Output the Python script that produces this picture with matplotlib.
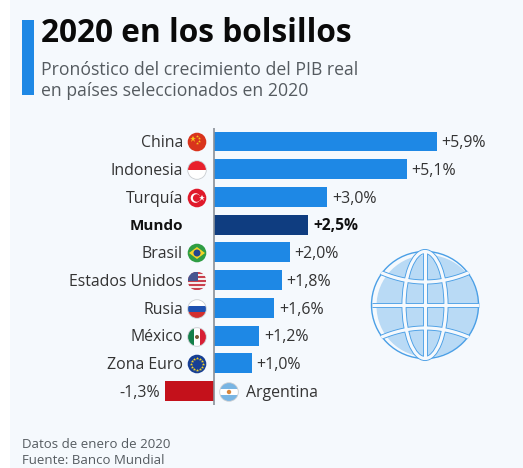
import numpy as np
import matplotlib
matplotlib.use("Agg")
import matplotlib.pyplot as plt
from matplotlib.patches import Circle, Rectangle, Ellipse, Polygon

categories = ["China", "Indonesia", "Turquía", "Mundo", "Brasil", "Estados Unidos",
              "Rusia", "México", "Zona Euro", "Argentina"]
values = [5.9, 5.1, 3.0, 2.5, 2.0, 1.8, 1.6, 1.2, 1.0, -1.3]
value_labels = ["+5,9%", "+5,1%", "+3,0%", "+2,5%", "+2,0%", "+1,8%", "+1,6%", "+1,2%", "+1,0%", "-1,3%"]

W, H = 523, 468
BLUE = "#1e88e5"
DARK = "#0f3d80"
RED = "#c4111b"
PAGE = "#f5f9fd"
GREY = "#555b60"
plt.rcParams["font.family"] = ["Open Sans", "DejaVu Sans"]

fig = plt.figure(figsize=(W / 100, H / 100), dpi=100, facecolor="white")

# page overlay in pixel coordinates
bg = fig.add_axes([0, 0, 1, 1])
bg.set_xlim(0, W); bg.set_ylim(H, 0); bg.axis("off")
bg.add_patch(Rectangle((10, 0), W - 10, H, color=PAGE, lw=0))
bg.add_patch(Rectangle((22, 20), 12, 75, color=BLUE, lw=0))
bg.text(41, 34, "2020 en los bolsillos", fontsize=22.8, fontweight="bold", color="#0a0a0a", va="center")
bg.text(41, 70, "Pronóstico del crecimiento del PIB real", fontsize=12.7, color=GREY, va="center")
bg.text(41, 91, "en países seleccionados en 2020", fontsize=12.7, color=GREY, va="center")
bg.text(22, 445, "Datos de enero de 2020", fontsize=9.5, color=GREY, va="center")
bg.text(22, 461, "Fuente: Banco Mundial", fontsize=9.5, color=GREY, va="center")

# bars
x0, ppu = 214, 37.8
ax = fig.add_axes([0, (H - 405) / H, 1, (405 - 128) / H])
ax.set_xlim(-x0 / ppu, (W - x0) / ppu)
y = np.arange(len(values))
ax.set_ylim(9 + (405 - 391) / 27.75, -(141.5 - 128) / 27.75)
ax.axis("off")
ax.patch.set_alpha(0)
colors = [DARK if c == "Mundo" else (RED if v < 0 else BLUE) for c, v in zip(categories, values)]
ax.barh(y, values, height=0.72, color=colors, lw=0)
ax.axvline(0, color="#8a9097", lw=1.2)


def label(s, xv, i, dx, ha, col, weight, size=11.4):
    ax.annotate(s, (xv, i), xytext=(dx * 0.72, -1.3), textcoords="offset points", ha=ha, va="center",
                fontsize=size, color=col, fontweight=weight)


for i, (c, v, t) in enumerate(zip(categories, values, value_labels)):
    bold = "bold" if c == "Mundo" else "normal"
    col = "#111111" if c == "Mundo" else "#333333"
    if v >= 0:
        label(t, v, i, 4.5, "left", col, bold, 11.2 if c == "Mundo" else 11.4)
        label(c, 0, i, -31, "right", col, bold, 11 if c == "Mundo" else 11.4)
    else:
        label(t, v, i, -5, "right", col, bold)
        label(c, 0, i, 32, "left", col, bold)


def clip_circle(cx, cy, r=9.3):
    c = Circle((cx, cy), r, transform=bg.transData, fc="none", ec="none")
    bg.add_patch(c)
    return c


def stripes(cx, cy, cols, r=9.3):
    clip = clip_circle(cx, cy, r)
    n = len(cols)
    for k, col in enumerate(cols):
        p = Rectangle((cx - r, cy - r + 2 * r * k / n), 2 * r, 2 * r / n, color=col, lw=0)
        bg.add_patch(p); p.set_clip_path(clip)


def vstripes(cx, cy, cols, r=9.3):
    clip = clip_circle(cx, cy, r)
    n = len(cols)
    for k, col in enumerate(cols):
        p = Rectangle((cx - r + 2 * r * k / n, cy - r), 2 * r / n, 2 * r, color=col, lw=0)
        bg.add_patch(p); p.set_clip_path(clip)


def ring(cx, cy, r=9.3):
    bg.add_patch(Circle((cx, cy), r, fc="none", ec="#c9ccd0", lw=0.6))


fx = 197
ys = [142, 170, 198, 226, 253, 281, 309, 337, 364]
# China
bg.add_patch(Circle((fx, ys[0]), 9.3, color="#d9341c", lw=0))
bg.plot([fx - 4], [ys[0] - 3], marker="*", ms=5, color="#f7c61a", mew=0)
for dx, dy in [(0, -6), (2, -4), (2, -1), (0, 1)]:
    bg.plot([fx + dx], [ys[0] + dy], marker="*", ms=2.2, color="#f7c61a", mew=0)
# Indonesia
stripes(fx, ys[1], ["#e8202c", "#ffffff"]); ring(fx, ys[1])
# Turquia
bg.add_patch(Circle((fx, ys[2]), 9.3, color="#e01a2b", lw=0))
bg.add_patch(Circle((fx - 1.5, ys[2]), 4.8, color="white", lw=0))
bg.add_patch(Circle((fx - 0.3, ys[2]), 3.8, color="#e01a2b", lw=0))
bg.plot([fx + 4.5], [ys[2]], marker="*", ms=4.5, color="white", mew=0)
# Brasil
bg.add_patch(Circle((fx, ys[4]), 9.3, color="#2f9e44", lw=0))
bg.add_patch(Polygon([(fx - 8, ys[4]), (fx, ys[4] - 6), (fx + 8, ys[4]), (fx, ys[4] + 6)], color="#f5d327", lw=0))
bg.add_patch(Circle((fx, ys[4]), 3.5, color="#23458f", lw=0))
# Estados Unidos
stripes(fx, ys[5], ["#c9414f", "#f3eeee"] * 4 + ["#c9414f"])
cl = clip_circle(fx, ys[5])
p = Rectangle((fx - 9.3, ys[5] - 9.3), 10, 9.5, color="#47558f", lw=0)
bg.add_patch(p); p.set_clip_path(cl)
# Rusia
stripes(fx, ys[6], ["#ffffff", "#1f51b0", "#d32f2f"]); ring(fx, ys[6])
# Mexico
vstripes(fx, ys[7], ["#14804a", "#ffffff", "#d81e34"]); ring(fx, ys[7])
bg.add_patch(Circle((fx, ys[7]), 2, color="#7a5a35", lw=0))
# Zona Euro
bg.add_patch(Circle((fx, ys[8]), 9.3, color="#173f94", lw=0))
for a in np.deg2rad(np.arange(0, 360, 30)):
    bg.plot([fx + 6 * np.cos(a)], [ys[8] + 6 * np.sin(a)], marker="*", ms=2.4, color="#f5d327", mew=0)
# Argentina
stripes(229, 392, ["#79b5e3", "#ffffff", "#79b5e3"]); ring(229, 392)
bg.add_patch(Circle((229, 392), 2.2, color="#d9863a", lw=0))

# globe
gx, gy, gr = 425, 305, 53.5
LB = "#b9daf5"
LINE = "#4a9fe6"
clip = clip_circle(gx, gy, gr + 1)
fill = Circle((gx + 2.5, gy + 1), gr - 2.5, color=LB, lw=0)
bg.add_patch(fill)
bg.add_patch(Circle((gx, gy), gr, fc="none", ec=LINE, lw=1.0))
tt = np.linspace(-1.3, 1.3, 80)
curves = [([gx, gx], [gy - gr, gy + gr]), ([gx - gr, gx + gr], [gy, gy])]
for s in (-1, 1):
    curves.append((gx + tt * 43, gy + s * (23 + 9 * tt ** 2)))
for px, py in curves:
    a, = bg.plot(px, py, color=LINE, lw=3.6, zorder=3, solid_capstyle="butt")
    b, = bg.plot(px, py, color=PAGE, lw=2.3, zorder=4, solid_capstyle="butt")
    a.set_clip_path(clip); b.set_clip_path(clip)
a = Ellipse((gx, gy), 42, 2 * gr, fc="none", ec=LINE, lw=3.6, zorder=3)
b = Ellipse((gx, gy), 42, 2 * gr, fc="none", ec=PAGE, lw=2.3, zorder=4)
bg.add_patch(a); bg.add_patch(b)

fig.savefig("out.png", dpi=100, facecolor=fig.get_facecolor())
